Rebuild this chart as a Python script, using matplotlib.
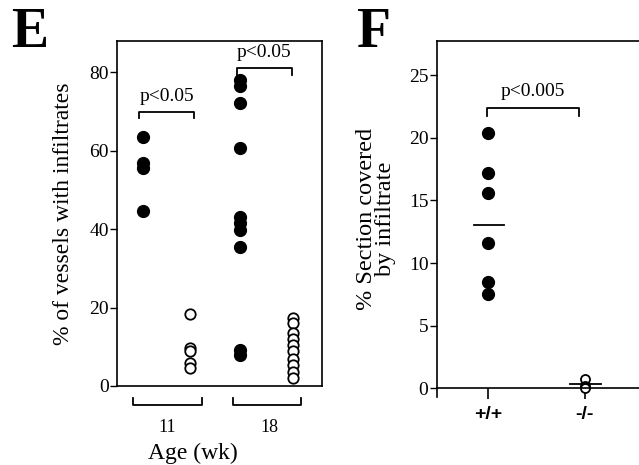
import matplotlib
matplotlib.use("Agg")
import matplotlib.pyplot as plt

plt.rcParams['font.family'] = ['Liberation Serif', 'DejaVu Serif']

# panel E: % vessels with infiltrates
e_pos = [1.0, 2.85, 4.8, 6.85]
wt_11 = [63.5, 57.0, 55.6, 44.7]
ko_11 = [18.4, 9.6, 8.8, 5.8, 4.7]
wt_18 = [78.0, 76.5, 72.1, 60.6, 43.0, 41.5, 39.8, 35.5, 9.2, 8.0]
ko_18 = [17.3, 16.0, 13.4, 12.1, 10.5, 8.8, 7.0, 5.4, 3.6, 2.0]
age_labels = ['11', '18']

# panel F: % section covered
f_pos = [1, 3]
wt_f = [20.35, 17.2, 15.6, 11.6, 8.5, 7.5]
ko_f = [0.72, 0.15, 0.0]
f_lines = [13.0, 0.32]
geno_labels = ['+/+', '-/-']

fig = plt.figure(figsize=(6.39, 4.65), dpi=100)

# ---- E ----
ax = fig.add_axes([0.1831, 0.1699, 0.3208, 0.7419])
ms = 8.5
ax.plot([e_pos[0]] * len(wt_11), wt_11, 'o', color='k', ms=ms, clip_on=False)
ax.plot([e_pos[1]] * len(ko_11), ko_11, 'o', mfc='white', mec='k', mew=1.3, ms=7.5, clip_on=False)
ax.plot([e_pos[2]] * len(wt_18), wt_18, 'o', color='k', ms=ms, clip_on=False)
ax.plot([e_pos[3]] * len(ko_18), ko_18, 'o', mfc='white', mec='k', mew=1.3, ms=7.5, clip_on=False)
ax.set_xlim(0, 8)
ax.set_ylim(0, 88)
ax.set_xticks([])
ax.set_yticks([0, 20, 40, 60, 80])
ax.tick_params(axis='y', direction='out', length=5, width=1, labelsize=14, pad=1)
for s in ax.spines.values():
    s.set_linewidth(1.2)
ax.set_ylabel('% of vessels with infiltrates', fontsize=17, labelpad=11)


def bracket(a, x0, x1, y, h, lw=1.3):
    a.plot([x0, x0, x1, x1], [y - h, y, y, y - h], color='k', lw=lw, clip_on=False)


bracket(ax, 0.85, 3.0, 70.0, 1.6)
ax.text(1.93, 71.8, 'p<0.05', ha='center', va='bottom', fontsize=14)
bracket(ax, 4.67, 6.84, 81.0, 1.7)
ax.text(5.75, 82.8, 'p<0.05', ha='center', va='bottom', fontsize=14)

# age brackets below the axis
bracket(ax, 0.61, 3.31, -4.85, -1.8)
bracket(ax, 4.51, 7.18, -4.85, -1.8)
ax.text(1.96, -10.6, age_labels[0], ha='center', va='center', fontsize=13)
ax.text(5.94, -10.6, age_labels[1], ha='center', va='center', fontsize=13)
ax.text(2.98, -17.1, 'Age (wk)', ha='center', va='center', fontsize=17)

fig.text(0.018, 0.985, 'E', fontsize=40, fontweight='bold', va='top', ha='left')

# ---- F ----
bx = fig.add_axes([0.6834, 0.146, 0.3166, 0.7652])
bx.plot([f_pos[0]] * len(wt_f), wt_f, 'o', color='k', ms=ms, clip_on=False)
bx.plot([f_pos[1]] * len(ko_f), ko_f, 'o', mfc='white', mec='k', mew=1.3, ms=6.5, clip_on=False)
bx.plot([f_pos[0] - 0.3, f_pos[0] + 0.33], [f_lines[0]] * 2, color='k', lw=1.3)
bx.plot([f_pos[1] - 0.3, f_pos[1] + 0.33], [f_lines[1]] * 2, color='k', lw=1.3)
bx.set_xlim(-0.07, 4.12)
bx.set_ylim(-0.7, 27.7)
bx.spines['right'].set_visible(False)
bx.spines['bottom'].set_position(('data', 0))
for s in bx.spines.values():
    s.set_linewidth(1.2)
bx.set_yticks([0, 5, 10, 15, 20, 25])
bx.tick_params(axis='y', direction='out', length=5, width=1, labelsize=14, pad=1)
bx.set_xticks(f_pos)
bx.set_xticklabels(geno_labels, family=['Liberation Sans', 'DejaVu Sans'], fontweight='bold', fontsize=14)
bx.tick_params(axis='x', direction='out', length=8, width=1.2, pad=5)
bx.set_ylabel('% Section covered\nby infiltrate', fontsize=17.5, linespacing=0.9, labelpad=9)

bracket(bx, 0.97, 2.87, 22.4, 0.7)
bx.text(1.93, 23.0, 'p<0.005', ha='center', va='bottom', fontsize=14)

fig.text(0.558, 0.985, 'F', fontsize=40, fontweight='bold', va='top', ha='left')

fig.savefig('out.png', dpi=100)
